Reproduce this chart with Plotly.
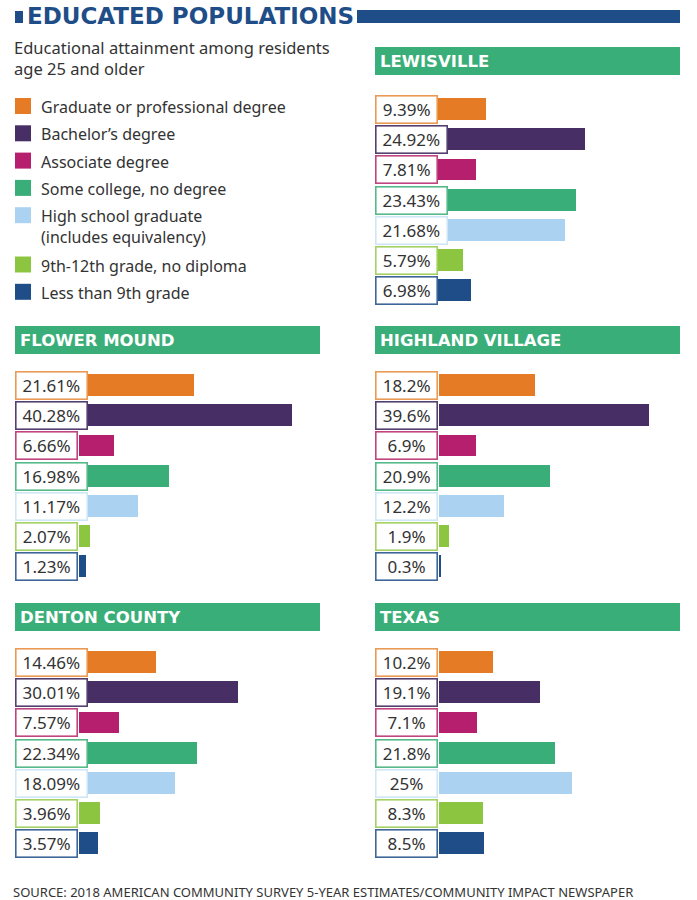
import plotly.graph_objects as go

# Educational attainment, residents age 25+ (percent)
categories = [
    "Graduate or professional degree",
    "Bachelor’s degree",
    "Associate degree",
    "Some college, no degree",
    "High school graduate<br>(includes equivalency)",
    "9th-12th grade, no diploma",
    "Less than 9th grade",
]
colors = ["#e67b25", "#472e64", "#b51f6e", "#3aae78", "#abd3f1", "#8cc640", "#1f4d87"]
border_colors = ["#eb9a55", "#54406f", "#c0457f", "#55b98a", "#cfe6f7", "#a3d163", "#3f6699"]

places = ["LEWISVILLE", "FLOWER MOUND", "HIGHLAND VILLAGE", "DENTON COUNTY", "TEXAS"]
lewisville = [9.39, 24.92, 7.81, 23.43, 21.68, 5.79, 6.98]
flower_mound = [21.61, 40.28, 6.66, 16.98, 11.17, 2.07, 1.23]
highland_village = [18.2, 39.6, 6.9, 20.9, 12.2, 1.9, 0.3]
denton_county = [14.46, 30.01, 7.57, 22.34, 18.09, 3.96, 3.57]
texas = [10.2, 19.1, 7.1, 21.8, 25, 8.3, 8.5]
values = [lewisville, flower_mound, highland_village, denton_county, texas]

W, H = 697, 900
GREEN = "#3aae78"
BLUE = "#1f4d87"
TXT = "#333333"


def px(x):
    return x / W


def py(y):
    return 1 - y / H


# panel placement in pixels: left edge, header top, first row top, zero offset, px per %
panels = [
    (375, 47, 94.4, 51, 6.4),
    (15, 326, 370.4, 64, 5.3),
    (375, 326, 370.4, 64, 5.3),
    (15, 603, 647.4, 64, 5.3),
    (375, 603, 647.4, 64, 5.3),
]
PANEL_W = 305
ROWS_H = 211.4

fig = go.Figure()
shapes = []
annotations = []
layout_axes = {}

for i, (name, vals, (x0, htop, rtop, off, scale)) in enumerate(zip(places, values, panels)):
    n = i + 1
    xa, ya = f"x{n}", f"y{n}"
    xmin = -off / scale
    xmax = (PANEL_W - off) / scale
    layout_axes[f"xaxis{n}"] = dict(domain=[px(x0), px(x0 + PANEL_W)], range=[xmin, xmax],
                                    visible=False, fixedrange=True, anchor=ya)
    layout_axes[f"yaxis{n}"] = dict(domain=[py(rtop + ROWS_H), py(rtop)], type="category",
                                    range=[6.5, -0.5], visible=False, fixedrange=True,
                                    anchor=xa)
    fig.add_trace(go.Bar(x=vals, y=categories, orientation="h", width=0.72,
                         marker=dict(color=colors, line_width=0),
                         xaxis=xa, yaxis=ya, showlegend=False, hoverinfo="skip"))

    # green header band
    shapes.append(dict(type="rect", xref="paper", yref="paper",
                       x0=px(x0), x1=px(x0 + PANEL_W), y0=py(htop + 28), y1=py(htop),
                       fillcolor=GREEN, line_width=0, layer="below"))
    annotations.append(dict(xref="paper", yref="paper", x=px(x0 + 3), y=py(htop + 14.5),
                            xanchor="left", yanchor="middle", showarrow=False,
                            text=f"<b>{name}</b>",
                            font=dict(family="DejaVu Sans", size=16.5, color="white")))

    # boxed value labels
    for j, v in enumerate(vals):
        label = f"{v:g}%"
        est = sum(9.7 if c.isdigit() else 4.5 if c == "." else 14 for c in label)
        annotations.append(dict(xref=xa, yref=ya, x=xmin, y=categories[j],
                                xanchor="left", yanchor="middle", showarrow=False,
                                text=label, align="center", width=max(57, est + 9),
                                bgcolor="white", bordercolor=border_colors[j],
                                borderwidth=1.6, borderpad=1.5,
                                font=dict(family="Noto Sans", size=17, color=TXT)))

# title
shapes.append(dict(type="rect", xref="paper", yref="paper", x0=px(15), x1=px(23),
                   y0=py(23), y1=py(11), fillcolor=BLUE, line_width=0))
shapes.append(dict(type="rect", xref="paper", yref="paper", x0=px(357), x1=px(680),
                   y0=py(23), y1=py(10), fillcolor=BLUE, line_width=0))
annotations.append(dict(xref="paper", yref="paper", x=px(25), y=py(16.5),
                        xanchor="left", yanchor="middle", showarrow=False,
                        text="<b>EDUCATED POPULATIONS</b>",
                        font=dict(family="DejaVu Sans", size=23, color=BLUE)))
annotations.append(dict(xref="paper", yref="paper", x=px(12), y=py(58),
                        xanchor="left", yanchor="middle", showarrow=False, align="left",
                        text="Educational attainment among residents<br>age 25 and older",
                        font=dict(family="Noto Sans", size=16.5, color=TXT)))

# legend
for j, (cat, col) in enumerate(zip(categories, colors)):
    cy = 106 + 27.3 * j + (22 if j > 4 else 0)
    shapes.append(dict(type="rect", xref="paper", yref="paper", x0=px(15), x1=px(31),
                       y0=py(cy + 8), y1=py(cy - 8), fillcolor=col, line_width=0))
    annotations.append(dict(xref="paper", yref="paper", x=px(39), y=py(cy - 12),
                            xanchor="left", yanchor="top", showarrow=False, align="left",
                            text=cat, font=dict(family="Noto Sans", size=16, color=TXT)))

# source line
annotations.append(dict(xref="paper", yref="paper", x=px(11), y=py(892),
                        xanchor="left", yanchor="middle", showarrow=False,
                        text="SOURCE: 2018 AMERICAN COMMUNITY SURVEY 5-YEAR ESTIMATES/COMMUNITY IMPACT NEWSPAPER",
                        font=dict(family="Noto Sans", size=13, color=TXT)))

fig.update_layout(width=W, height=H, margin=dict(l=0, r=0, t=0, b=0),
                  paper_bgcolor="white", plot_bgcolor="white",
                  shapes=shapes, annotations=annotations, bargap=0,
                  **layout_axes)

# drop the browser's default 8px body margin so the figure fills the window
fig.write_html("out.html", config={"displayModeBar": False},
               post_script="document.body.style.margin = '0';")
